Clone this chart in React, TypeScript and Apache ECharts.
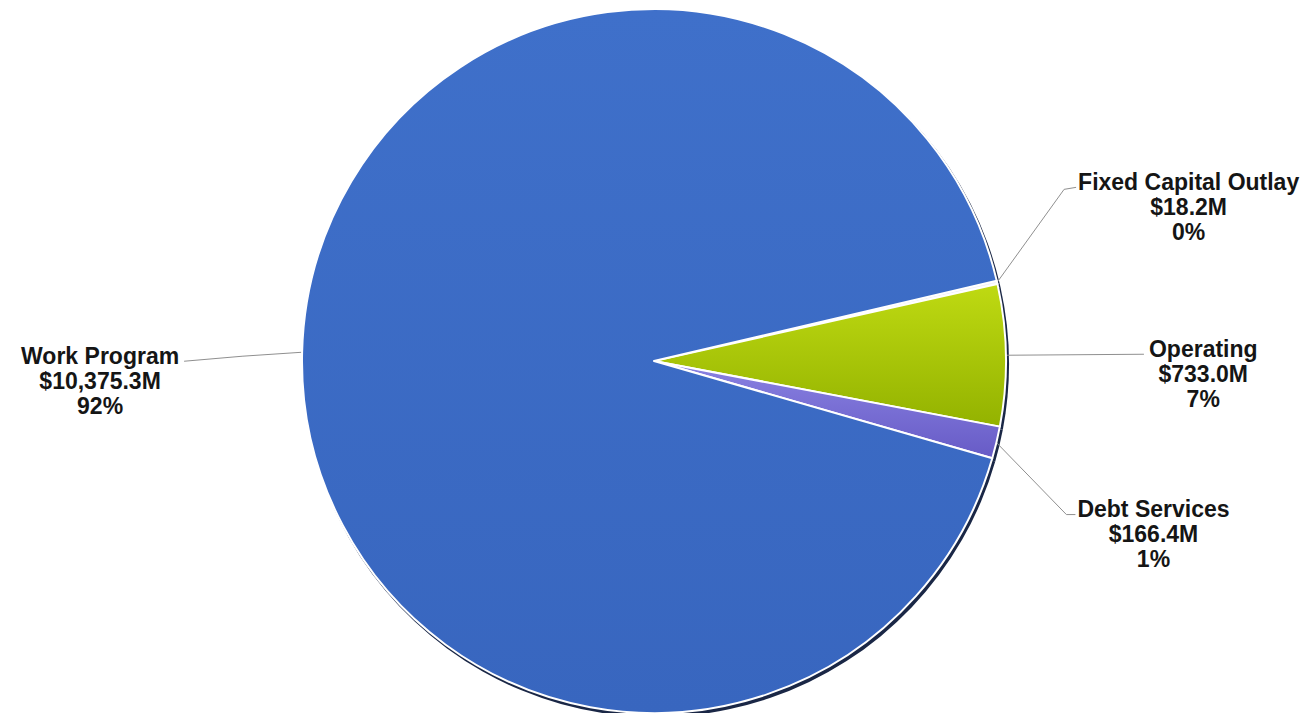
import React, { useEffect, useRef } from "react";
import * as echarts from "echarts";

// ---- data ----
const categories = ["Fixed Capital Outlay", "Operating", "Debt Services", "Work Program"];
const values = [18.2, 733.0, 166.4, 10375.3];

// ---- styling ----
const sliceColors = [
  ["#f4f4fa", "#dcdcec"],
  ["#bfda12", "#93b200"],
  ["#8a82e2", "#675bc6"],
  ["#3f70ca", "#3866bf"],
];
const rimColor = "#1a2746";
const FONT = '"Liberation Sans", Arial, Helvetica, sans-serif';

// label guide geometry, relative to the rim point ECharts computes for each slice
const guideElbow: number[][] = [
  [67, -93],
  [138, -1],
  [70, 72],
  [-60, 4],
];
const guideEnd: number[][] = [
  [79, -95],
  [138, -1],
  [79, 72],
  [-118, 9],
];
const textGap = [2, 5, 2, -5];

function fmtMoney(v: number): string {
  return (
    "$" +
    v.toLocaleString("en-US", { minimumFractionDigits: 1, maximumFractionDigits: 1 }) +
    "M"
  );
}

export default function App() {
  const ref = useRef<HTMLDivElement>(null);
  useEffect(() => {
    if (!ref.current) return;
    const chart = echarts.init(ref.current, undefined, { renderer: "svg" });
    const center = [654, 361];
    const radius = 352;

    const mainData = categories.map((name, i) => ({
      name,
      value: values[i],
      itemStyle: {
        color: new echarts.graphic.LinearGradient(0, 0, 0, 1, [
          { offset: 0, color: sliceColors[i][0] },
          { offset: 1, color: sliceColors[i][1] },
        ]),
      },
    }));

    chart.setOption({
      animation: false,
      backgroundColor: "#ffffff",
      series: [
        {
          type: "pie",
          name: "rim",
          silent: true,
          z: 1,
          center: [center[0] + 2, center[1] + 3],
          radius: radius + 1,
          startAngle: 13.2,
          clockwise: true,
          avoidLabelOverlap: false,
          label: { show: false },
          labelLine: { show: false },
          itemStyle: { color: rimColor, borderWidth: 0 },
          emphasis: { disabled: true },
          data: categories.map((name, i) => ({ name, value: values[i] })),
        },
        {
          type: "pie",
          name: "Budget",
          z: 2,
          center,
          radius,
          startAngle: 13.2,
          clockwise: true,
          percentPrecision: 0,
          avoidLabelOverlap: false,
          emphasis: { disabled: true },
          itemStyle: { borderColor: "#ffffff", borderWidth: 2 },
          label: {
            show: true,
            position: "outside",
            formatter: (p: any) =>
              `{t|${p.name}}\n{t|${fmtMoney(p.value)}}\n{t|${p.percent}%}`,
            rich: {
              t: {
                align: "center",
                fontSize: 23,
                lineHeight: 25,
                fontWeight: "bold",
                fontFamily: FONT,
                color: "#151515",
              },
            },
          },
          labelLine: {
            show: true,
            length: 10,
            length2: 10,
            lineStyle: { color: "#8f8f8f", width: 1 },
          },
          labelLayout: (params: any) => {
            const i = params.dataIndex;
            const pts = params.labelLinePoints;
            let rim: number[];
            if (pts && pts[0]) {
              rim = [pts[0][0], pts[0][1]];
            } else {
              rim = [center[0], center[1]];
            }
            const elbow = [rim[0] + guideElbow[i][0], rim[1] + guideElbow[i][1]];
            const end = [rim[0] + guideEnd[i][0], rim[1] + guideEnd[i][1]];
            const isLeft = guideEnd[i][0] < 0;
            return {
              x: end[0] + textGap[i],
              y: end[1] - 18,
              align: isLeft ? "right" : "left",
              verticalAlign: "top",
              labelLinePoints: [rim, elbow, end],
            };
          },
          data: mainData,
        },
      ],
    });
    return () => chart.dispose();
  }, []);

  return (
    <div
      ref={ref}
      style={{ position: "absolute", left: 0, top: 0, width: 1312, height: 713 }}
    />
  );
}
